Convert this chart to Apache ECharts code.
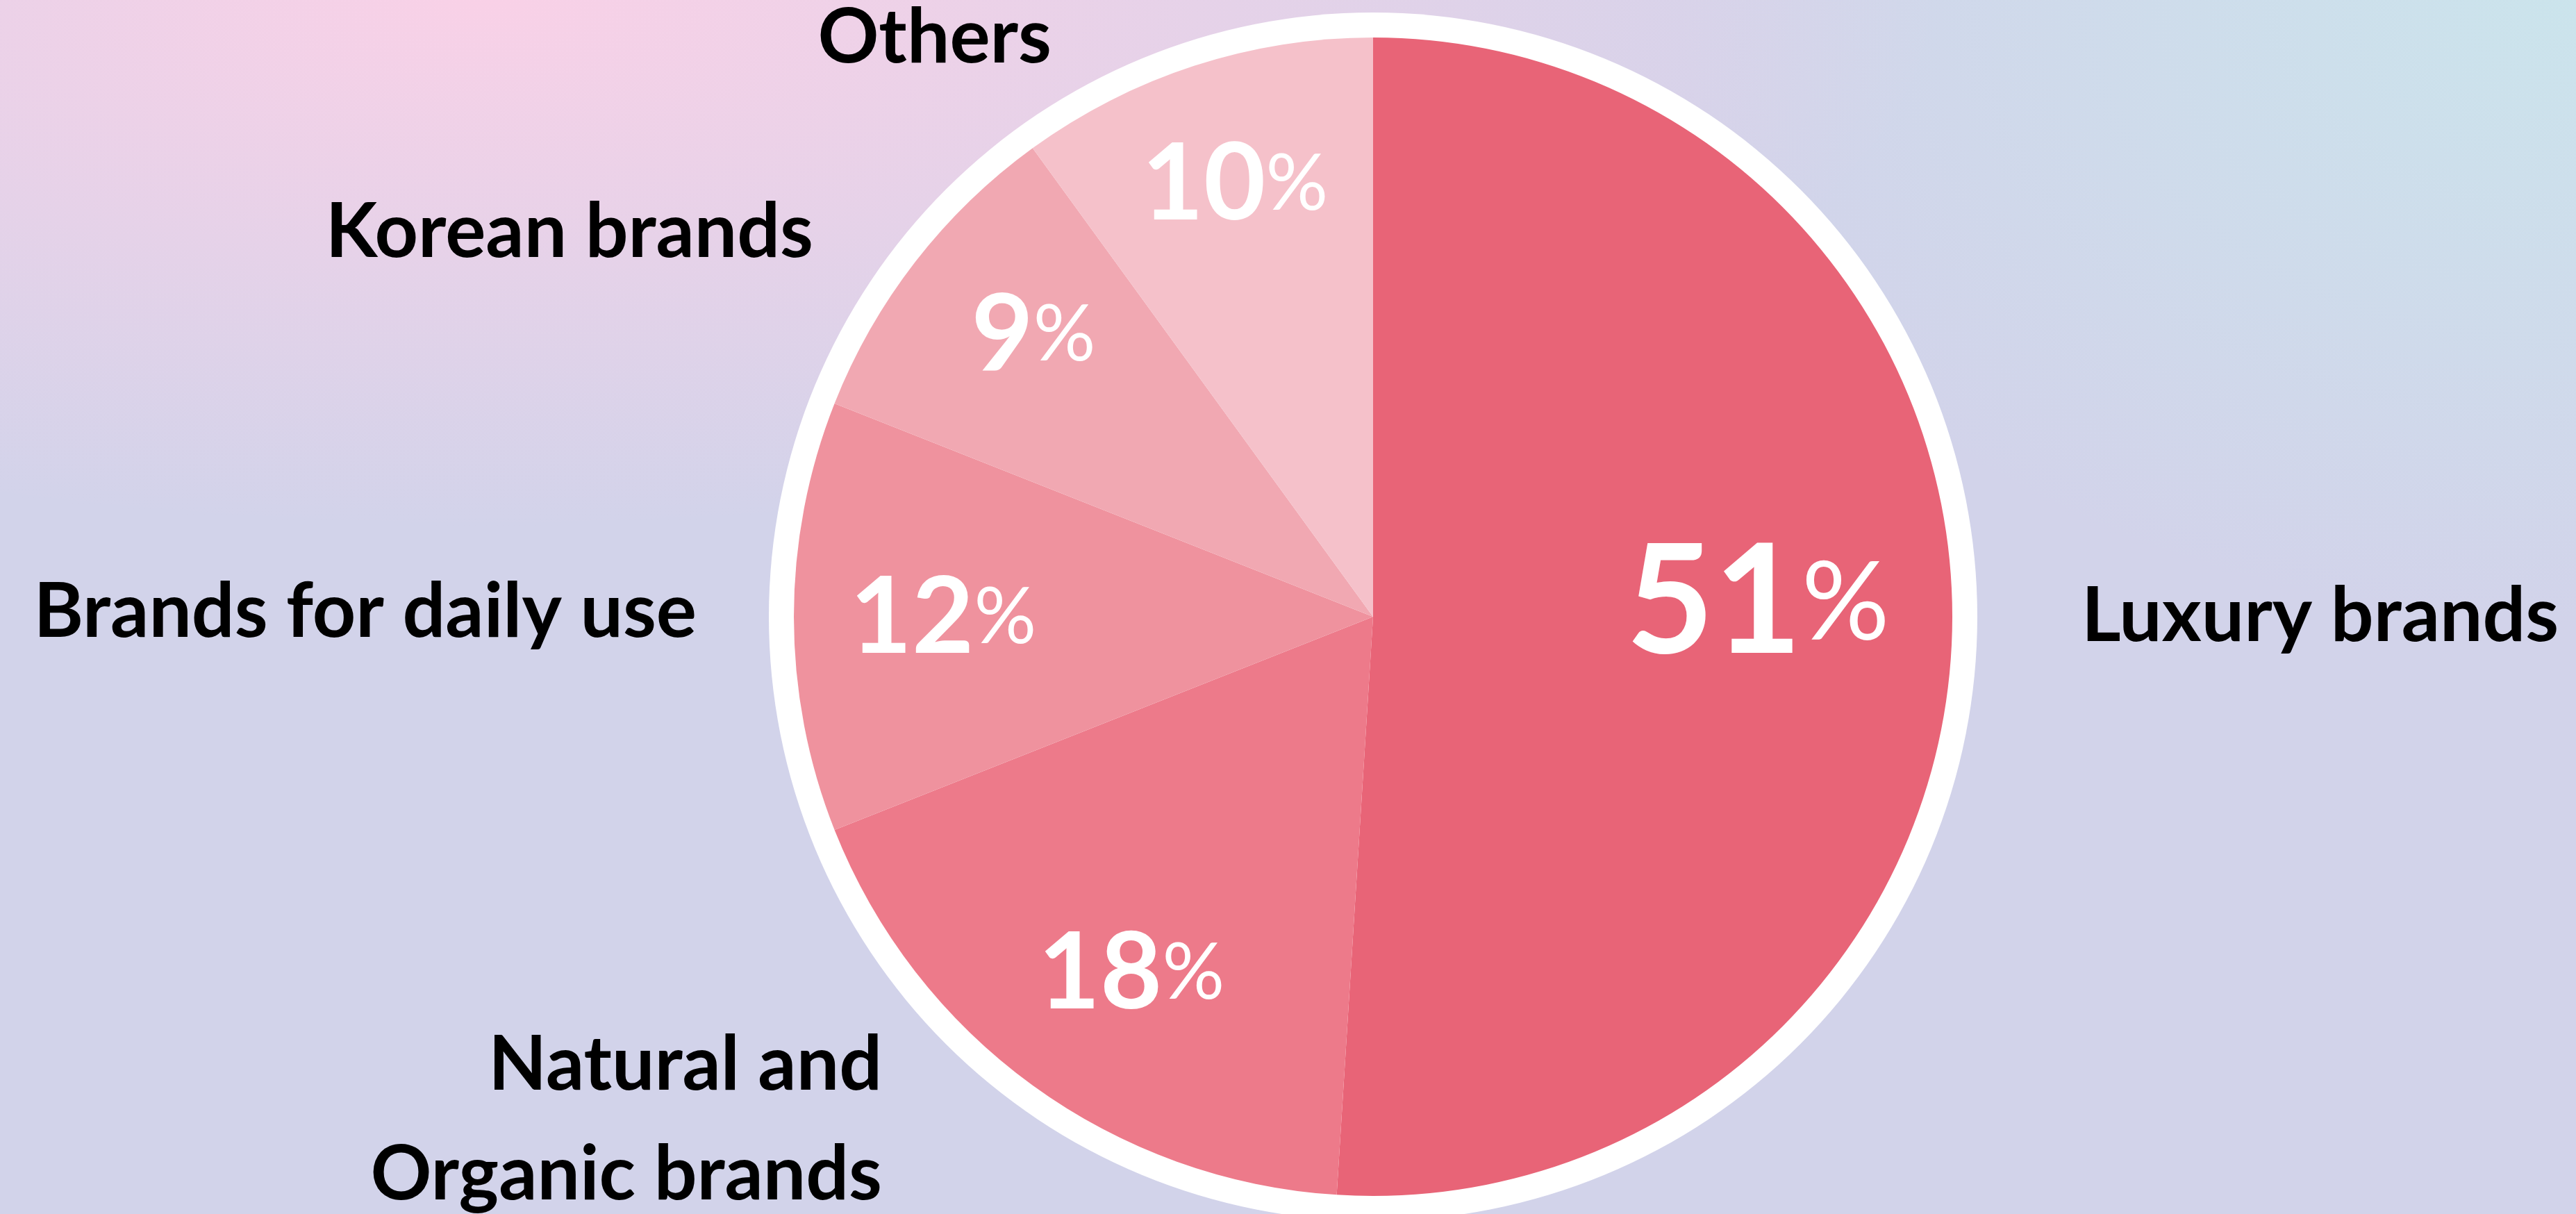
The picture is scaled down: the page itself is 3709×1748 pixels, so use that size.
<!DOCTYPE html>
<html>
<head>
<meta charset="utf-8">
<script src="https://cdn.jsdelivr.net/npm/echarts@6/dist/echarts.min.js"></script>
<style>
  html, body { margin: 0; padding: 0; }
  body {
    width: 3709px; height: 1748px; overflow: hidden;
    background:
      radial-gradient(ellipse 2100px 760px at 700px 0px, rgba(249,209,231,1) 0%, rgba(249,209,231,0.55) 45%, rgba(249,209,231,0) 100%),
      radial-gradient(ellipse 1300px 900px at 3709px 0px, rgba(203,228,236,1) 0%, rgba(203,228,236,0.5) 50%, rgba(203,228,236,0) 100%),
      #D2D3EA;
  }
  #chart { width: 3709px; height: 1748px; }
</style>
</head>
<body>
<div id="chart"></div>
<script>
// Market share by brand segment (%)
const categories = ['Luxury brands', 'Natural and\nOrganic brands', 'Brands for daily use', 'Korean brands', 'Others'];
const shares = [51, 18, 12, 9, 10];

// Slice palette, in the same order as the categories
const palette = ['#E86477', '#ED7A8A', '#EF929E', '#F1A8B2', '#F5C1CA'];

// Pie geometry
const CX = 1977, CY = 888, R = 834, RING = 870;

// Percentage labels: offset from the pie centre
const valueLabelOffsets = [[554, -18], [-348, 514], [-619, 2], [-489, -405], [-199, -622]];
// Category labels: offset from the pie centre and alignment
const nameLabelAnchors = [
  { dx: 1020, dy: 0, align: 'left' },
  { dx: -707, dy: 725, align: 'right' },
  { dx: -974, dy: -6, align: 'right' },
  { dx: -806, dy: -553, align: 'right' },
  { dx: -463, dy: -833, align: 'right' }
];

const FONT = 'Lato, "Open Sans", sans-serif';

const sliceData = categories.map((name, i) => ({
  name: name,
  value: shares[i],
  itemStyle: { color: palette[i] },
  label: i === 0
    ? { rich: { n: { fontSize: 218, fontWeight: 'bold' }, p: { fontSize: 158, fontWeight: 'normal' } } }
    : {}
}));

const chart = echarts.init(document.getElementById('chart'), null, { renderer: 'canvas' });

chart.setOption({
  backgroundColor: 'transparent',
  animation: false,
  graphic: [{
    type: 'circle',
    z: 0,
    silent: true,
    shape: { cx: CX, cy: CY, r: RING },
    style: { fill: '#FFFFFF' }
  }],
  series: [
    {
      type: 'pie',
      z: 2,
      center: [CX, CY],
      radius: [0, R],
      startAngle: 90,
      clockwise: true,
      avoidLabelOverlap: false,
      emphasis: { disabled: true },
      itemStyle: { borderWidth: 0 },
      label: {
        show: true,
        position: 'inside',
        color: '#FFFFFF',
        fontFamily: FONT,
        formatter: p => '{n|' + p.value + '}{p|%}',
        rich: {
          n: { fontSize: 154, fontWeight: 'bold', color: '#FFFFFF', fontFamily: FONT },
          p: { fontSize: 112, fontWeight: 'normal', color: '#FFFFFF', fontFamily: FONT }
        }
      },
      labelLine: { show: false },
      labelLayout: p => ({
        x: CX + valueLabelOffsets[p.dataIndex][0],
        y: CY + valueLabelOffsets[p.dataIndex][1],
        align: 'center',
        verticalAlign: 'middle'
      }),
      data: sliceData
    },
    {
      type: 'pie',
      z: 3,
      silent: true,
      center: [CX, CY],
      radius: [0, R],
      startAngle: 90,
      clockwise: true,
      avoidLabelOverlap: false,
      itemStyle: { color: 'rgba(0,0,0,0)' },
      label: {
        show: true,
        position: 'outside',
        formatter: '{b}',
        color: '#000000',
        fontFamily: FONT,
        fontWeight: 'bold',
        fontSize: 109,
        lineHeight: 158
      },
      labelLine: { show: false },
      labelLayout: p => {
        const a = nameLabelAnchors[p.dataIndex];
        return { x: CX + a.dx, y: CY + a.dy, align: a.align, verticalAlign: 'middle' };
      },
      data: categories.map((name, i) => ({ name: name, value: shares[i] }))
    }
  ]
});
</script>
</body>
</html>
